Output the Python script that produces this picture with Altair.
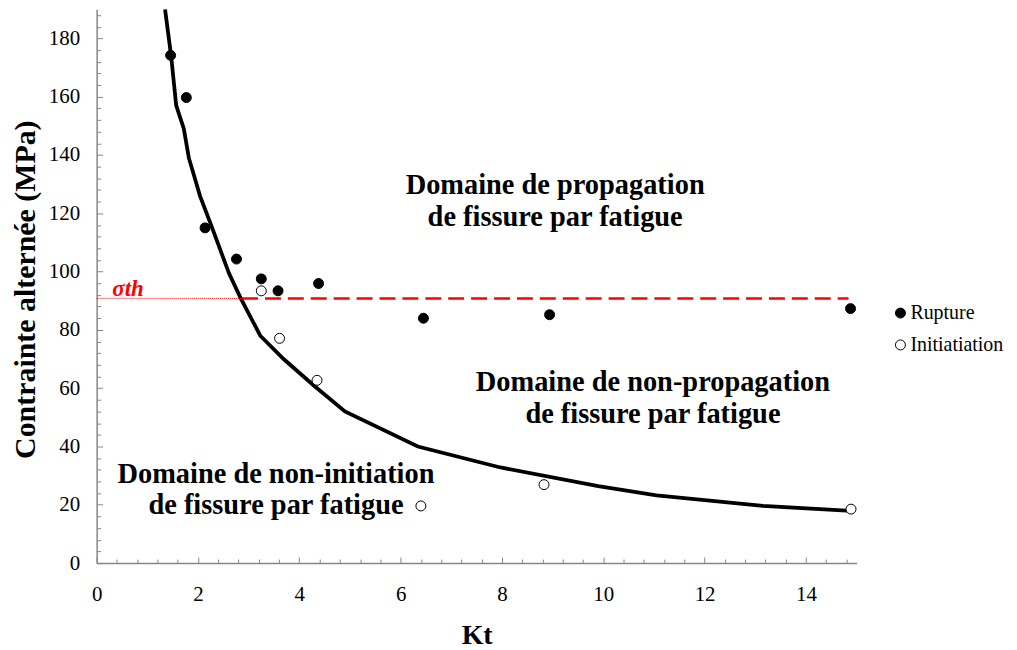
import altair as alt
import pandas as pd

# ---- data ----
curve_kt = [1.35, 1.47, 1.57, 1.72, 1.82, 2.04, 2.28, 2.61, 2.84, 3.23, 3.69, 4.28,
            4.90, 6.34, 7.97, 9.90, 11.05, 13.15, 14.89]
curve_sigma = [190, 174, 157, 149, 139, 126, 115, 99.5, 91, 78, 70, 61,
               52, 40, 32.8, 26.4, 23.2, 19.6, 17.9]

rupture_kt = [1.46, 1.77, 2.14, 2.76, 3.25, 3.58, 4.38, 6.45, 8.94, 14.88]
rupture_sigma = [174.2, 159.7, 115.0, 104.3, 97.5, 93.4, 95.9, 84.0, 85.2, 87.3]

init_kt = [3.25, 3.61, 4.35, 6.40, 8.83, 14.89]
init_sigma = [93.4, 77.1, 62.7, 19.6, 26.9, 18.5]

series_names = ["Rupture", "Initiatiation"]

sigma_th = 90.8
th_dash_start, th_dash_end = 2.87, 14.84

labels_text = ["Domaine de propagation\nde fissure par fatigue",
               "Domaine de non-propagation\nde fissure par fatigue",
               "Domaine de non-initiation\nde fissure par fatigue"]
labels_kt = [9.05, 10.98, 3.54]
labels_sigma = [126.7, 59.1, 27.6]

x_major = [0, 2, 4, 6, 8, 10, 12, 14]
y_major = [0, 20, 40, 60, 80, 100, 120, 140, 160, 180]
x_minor = [round(0.4 * i, 1) for i in range(38)]
y_minor = [4 * i for i in range(48)]

# ---- tables ----
curve_df = pd.DataFrame({"Kt": curve_kt, "sigma": curve_sigma})
pts_df = pd.DataFrame({
    "Kt": rupture_kt + init_kt,
    "sigma": rupture_sigma + init_sigma,
    "type": [series_names[0]] * len(rupture_kt) + [series_names[1]] * len(init_kt),
})
dash_df = pd.DataFrame({"x0": [th_dash_start], "x1": [th_dash_end], "y": [sigma_th]})
dot_df = pd.DataFrame({"x0": [0.0], "x1": [th_dash_start], "y": [sigma_th]})
sth_df = pd.DataFrame({"Kt": [0.31], "sigma": [sigma_th], "t": ["σth"]})
lab_df = pd.DataFrame({"Kt": labels_kt, "sigma": labels_sigma, "t": labels_text})

W, H = 763, 556
FONT = "Liberation Serif, Times New Roman, Times, serif"
GRAY = "#868686"

xscale = alt.Scale(domain=[0, 15], nice=False, zero=False)
yscale = alt.Scale(domain=[0, 190], nice=False, zero=False)

main_x_axis = alt.Axis(
    orient="bottom", values=x_major, ticks=False, grid=False,
    domainColor=GRAY, domainWidth=1.5,
    labelFont=FONT, labelFontSize=21, labelColor="black", labelPadding=38,
    labelBaseline="alphabetic", labelFlush=False, labelOverlap=False,
    title="Kt", titleFont=FONT, titleFontSize=28, titleFontWeight="bold",
    titleColor="black", titleBaseline="alphabetic", titleY=81, titleX=W / 2,
    titleAlign="center",
)
main_y_axis = alt.Axis(
    orient="left", values=y_major, ticks=False, grid=False,
    domainColor=GRAY, domainWidth=1.5,
    labelFont=FONT, labelFontSize=21, labelColor="black", labelPadding=17,
    labelFlush=False, labelOverlap=False,
    title="Contrainte alternée (MPa)", titleFont=FONT, titleFontSize=30,
    titleFontWeight="bold", titleColor="black", titleAngle=-90,
    titleBaseline="alphabetic", titleX=-62, titleY=H / 2 + 3, titleAlign="center",
)
tick_x_axis = alt.Axis(
    orient="top", offset=-H, values=x_minor, labels=False, domain=False, grid=False,
    ticks=True, tickColor=GRAY, tickWidth=1,
    tickSize={"condition": {"test": "abs(datum.value - 2*round(datum.value/2)) < 0.01", "value": 6}, "value": 4},
    title=None,
)
tick_y_axis = alt.Axis(
    orient="right", offset=-W, values=y_minor, labels=False, domain=False, grid=False,
    ticks=True, tickColor=GRAY, tickWidth=1,
    tickSize={"condition": {"test": "datum.value % 20 === 0", "value": 6}, "value": 4},
    title=None,
)

curve = alt.Chart(curve_df).mark_line(color="black", strokeWidth=3.8, clip=True).encode(
    x=alt.X("Kt:Q", scale=xscale, axis=main_x_axis),
    y=alt.Y("sigma:Q", scale=yscale, axis=main_y_axis),
)

dotted = alt.Chart(dot_df).mark_rule(color="#FF0000", strokeWidth=1, strokeDash=[1, 1]).encode(
    x=alt.X("x0:Q", scale=xscale, axis=tick_x_axis),
    x2="x1:Q",
    y=alt.Y("y:Q", scale=yscale, axis=tick_y_axis),
)

dashed = alt.Chart(dash_df).mark_rule(color="#FF0000", strokeWidth=2.5, strokeDash=[16, 7]).encode(
    x=alt.X("x0:Q", scale=xscale, axis=None),
    x2="x1:Q",
    y=alt.Y("y:Q", scale=yscale, axis=None),
)

points = alt.Chart(pts_df).mark_point(
    shape="circle", filled=True, size=100, stroke="black", strokeWidth=1, opacity=1
).encode(
    x=alt.X("Kt:Q", scale=xscale, axis=None),
    y=alt.Y("sigma:Q", scale=yscale, axis=None),
    fill=alt.Fill(
        "type:N",
        scale=alt.Scale(domain=series_names, range=["black", "white"]),
        legend=alt.Legend(
            orient="none", legendX=797, legendY=295, title=None, padding=0,
            symbolType="circle", symbolSize=100, symbolStrokeColor="black",
            symbolStrokeWidth=1, labelFont=FONT, labelFontSize=20, labelColor="black",
            labelOffset=0, rowPadding=12, labelLimit=300,
        ),
    ),
)

sth = alt.Chart(sth_df).mark_text(
    font=FONT, fontSize=23, fontWeight="bold", fontStyle="italic", color="#FF0000",
    align="left", baseline="alphabetic", dy=-2,
).encode(
    x=alt.X("Kt:Q", scale=xscale, axis=None),
    y=alt.Y("sigma:Q", scale=yscale, axis=None),
    text="t:N",
)

labels = alt.Chart(lab_df).mark_text(
    font=FONT, fontSize=28.5, fontWeight="bold", color="black",
    align="center", baseline="alphabetic", lineBreak="\n", lineHeight=32,
).encode(
    x=alt.X("Kt:Q", scale=xscale, axis=None),
    y=alt.Y("sigma:Q", scale=yscale, axis=None),
    text="t:N",
)

chart = alt.layer(curve, dotted, dashed, points, sth, labels).resolve_axis(
    x="independent", y="independent"
).properties(
    width=W, height=H,
    autosize=alt.AutoSizeParams(type="none"),
    padding={"left": 89, "top": 0, "right": 153, "bottom": 86},
    background="white",
).configure_view(stroke=None)

chart.save("out.html", embed_options={"renderer": "svg", "actions": False})
